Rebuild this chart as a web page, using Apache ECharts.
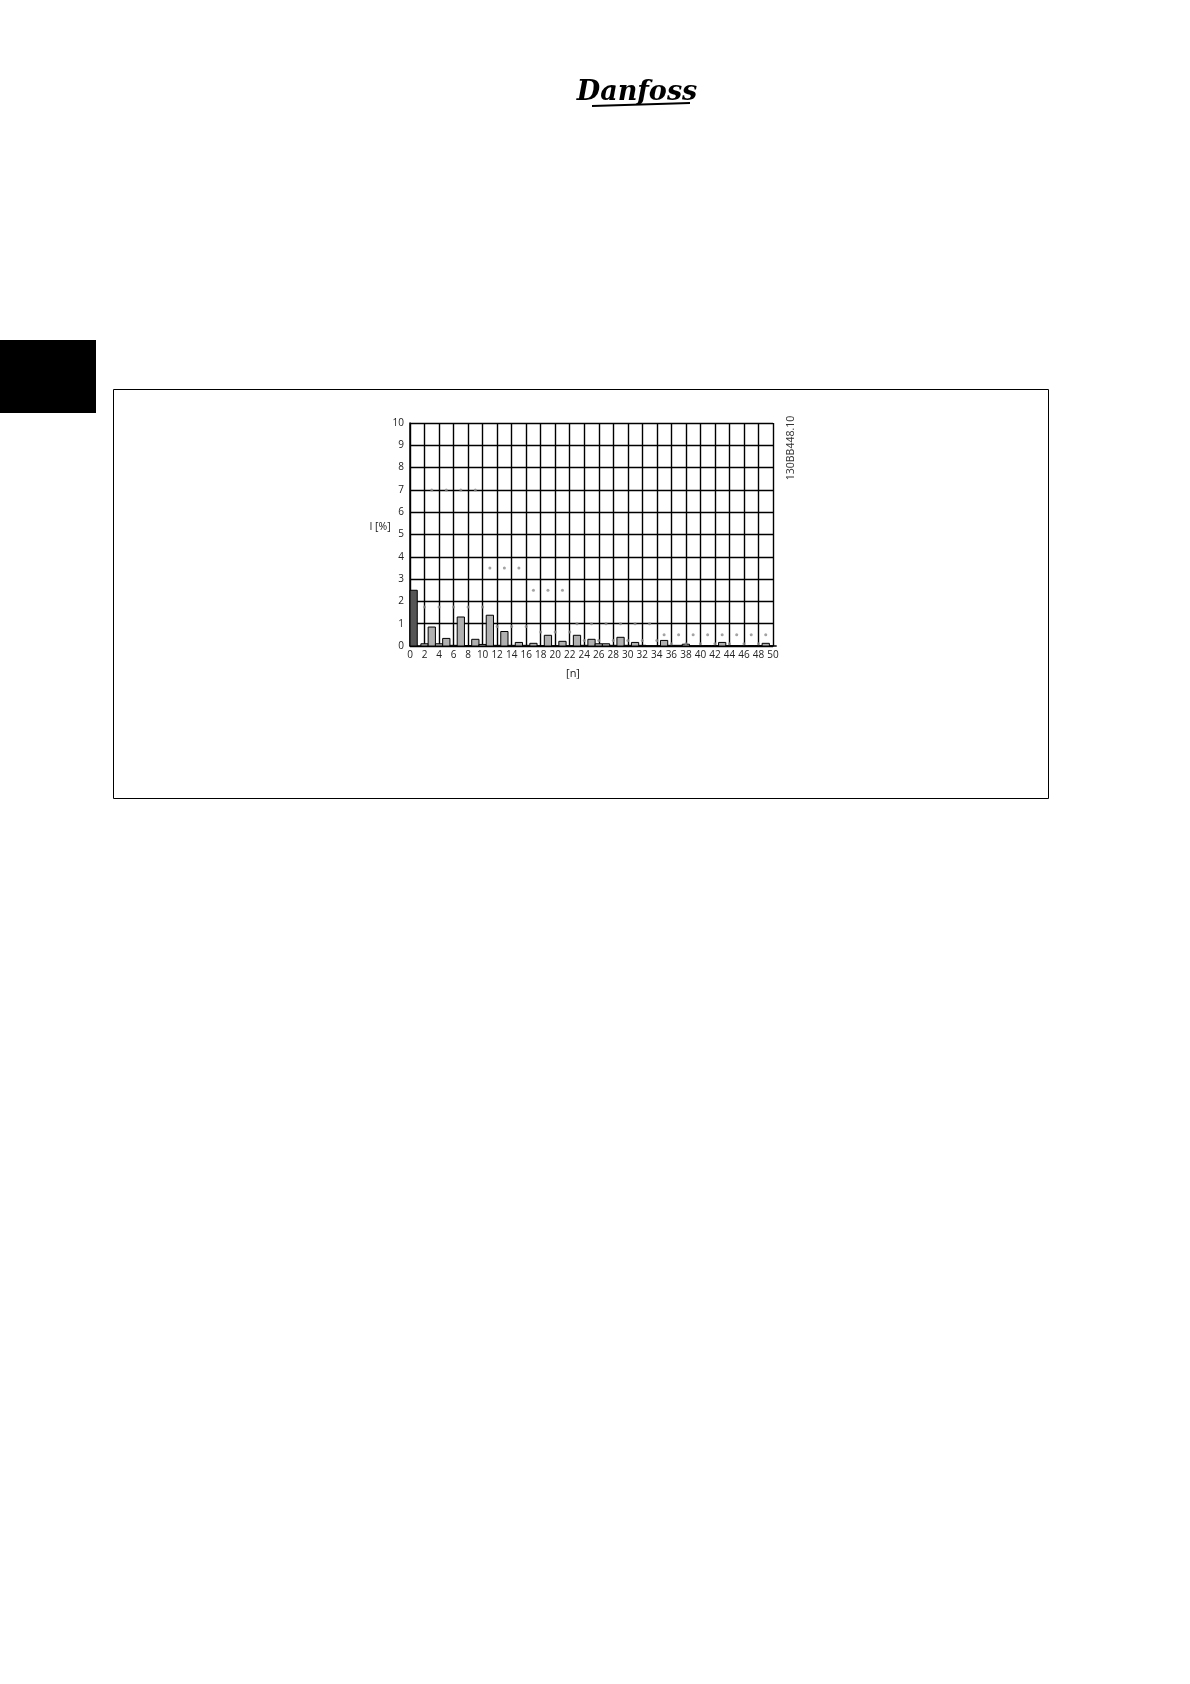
<!DOCTYPE html>
<html>
<head>
<meta charset="utf-8">
<script src="https://cdn.jsdelivr.net/npm/echarts@6/dist/echarts.min.js"></script>
<style>
html,body{margin:0;padding:0;background:#fff;}
#chart{width:1190px;height:1684px;}
</style>
</head>
<body>
<div id="chart"></div>
<script>
// Harmonic orders and measured current (I [%])
const harmonicOrders = [2,3,4,5,6,7,8,9,10,11,12,13,14,15,16,17,18,19,20,21,22,23,24,25,26,27,28,29,30,31,32,33,34,35,36,37,38,39,40,41,42,43,44,45,46,47,48,49,50];
const harmonicCurrent = [0.1,0.85,0.1,0.34,0.03,1.3,0.02,0.3,0.07,1.38,0.03,0.65,0.03,0.16,0.03,0.12,0,0.48,0,0.21,0,0.48,0.03,0.3,0.1,0.1,0.03,0.39,0.03,0.16,0.03,0,0,0.25,0.03,0.03,0.08,0,0,0.02,0.02,0.16,0.02,0.02,0,0.02,0.02,0.12,0];
// Fundamental bar: [from, to, value]
const fundamentalBar = [[0, 1, 2.5]];
// Limit markers
const limitOrders = [2,3,4,5,6,7,8,9,10,11,12,13,14,15,16,17,18,19,20,21,22,23,24,25,26,27,28,29,30,31,32,33,34,35,36,37,38,39,40,41,42,43,44,45,46,47,48,49];
const limitValues = [1.75,7,1.75,7,1.75,7,1.75,7,1.75,3.5,0.875,3.5,0.875,3.5,0.875,2.5,0.625,2.5,0.625,2.5,0.625,1,0.25,1,0.25,1,0.25,1,0.25,1,0.25,1,0.25,0.5,0.1,0.5,0.1,0.5,0.1,0.5,0.1,0.5,0.1,0.5,0.1,0.5,0.1,0.5];
// Axis ticks
const xTicks = {min: 0, max: 50, step: 2};
const yTicks = {min: 0, max: 10, step: 1};

const chart = echarts.init(document.getElementById('chart'), null, {renderer: 'canvas'});
const font = "'Open Sans', 'Noto Sans', sans-serif";

const barData = harmonicOrders.map((n, i) => [n - 0.5, n + 0.5, harmonicCurrent[i]]);
const limitData = limitOrders.map((n, i) => [n, limitValues[i]]);

function renderBar(params, api) {
  const p0 = api.coord([api.value(0), api.value(2)]);
  const p1 = api.coord([api.value(1), 0]);
  return {
    type: 'rect',
    shape: {x: p0[0], y: p0[1], width: p1[0] - p0[0], height: p1[1] - p0[1]},
    style: api.style()
  };
}

const option = {
  animation: false,
  backgroundColor: '#fff',
  grid: {left: 410, top: 423, width: 363, height: 223, containLabel: false},
  xAxis: {
    type: 'value', min: xTicks.min, max: xTicks.max, interval: xTicks.step,
    axisLine: {show: true, lineStyle: {color: '#000', width: 1.5}},
    axisTick: {show: false},
    splitLine: {show: true, lineStyle: {color: '#000', width: 1.4}},
    axisLabel: {color: '#222', fontSize: 10, fontFamily: font, margin: 4}
  },
  yAxis: {
    type: 'value', min: yTicks.min, max: yTicks.max, interval: yTicks.step,
    axisLine: {show: true, lineStyle: {color: '#000', width: 1.5}},
    axisTick: {show: false},
    splitLine: {show: true, lineStyle: {color: '#000', width: 1.4}},
    axisLabel: {color: '#222', fontSize: 10, fontFamily: font, margin: 6}
  },
  series: [
    {
      type: 'custom', renderItem: renderBar, data: barData,
      encode: {x: [0, 1], y: 2},
      itemStyle: {color: '#b0b0b0', borderColor: '#000', borderWidth: 1},
      z: 3
    },
    {
      type: 'custom', renderItem: renderBar, data: fundamentalBar,
      encode: {x: [0, 1], y: 2},
      itemStyle: {color: '#555555', borderColor: '#000', borderWidth: 1},
      z: 3
    },
    {
      type: 'scatter', data: limitData, symbol: 'circle', symbolSize: 3,
      itemStyle: {color: '#8c8c8c'}, z: 4
    }
  ],
  graphic: [
    {type: 'rect', left: 0, top: 340, shape: {width: 96, height: 73}, style: {fill: '#000'}},
    {type: 'rect', shape: {x: 113.5, y: 389.5, width: 935, height: 409}, style: {fill: 'none', stroke: '#000', lineWidth: 1}},
    {type: 'text', x: 637, y: 93, style: {text: 'Danfoss', fill: '#000', font: "italic bold 27px 'DejaVu Serif', serif", align: 'center', verticalAlign: 'middle'}},
    {type: 'line', shape: {x1: 592, y1: 106, x2: 690, y2: 103}, style: {stroke: '#000', lineWidth: 2}},
    {type: 'text', x: 380, y: 527, style: {text: 'I [%]', fill: '#222', font: "10.5px 'Open Sans', sans-serif", align: 'center', verticalAlign: 'middle'}},
    {type: 'text', x: 573, y: 674, style: {text: '[n]', fill: '#222', font: "11px 'Open Sans', sans-serif", align: 'center', verticalAlign: 'middle'}},
    {type: 'text', x: 791, y: 448, rotation: Math.PI / 2, style: {text: '130BB448.10', fill: '#333', font: "10.5px 'Open Sans', sans-serif", align: 'center', verticalAlign: 'middle'}}
  ]
};
chart.setOption(option);
</script>
</body>
</html>
